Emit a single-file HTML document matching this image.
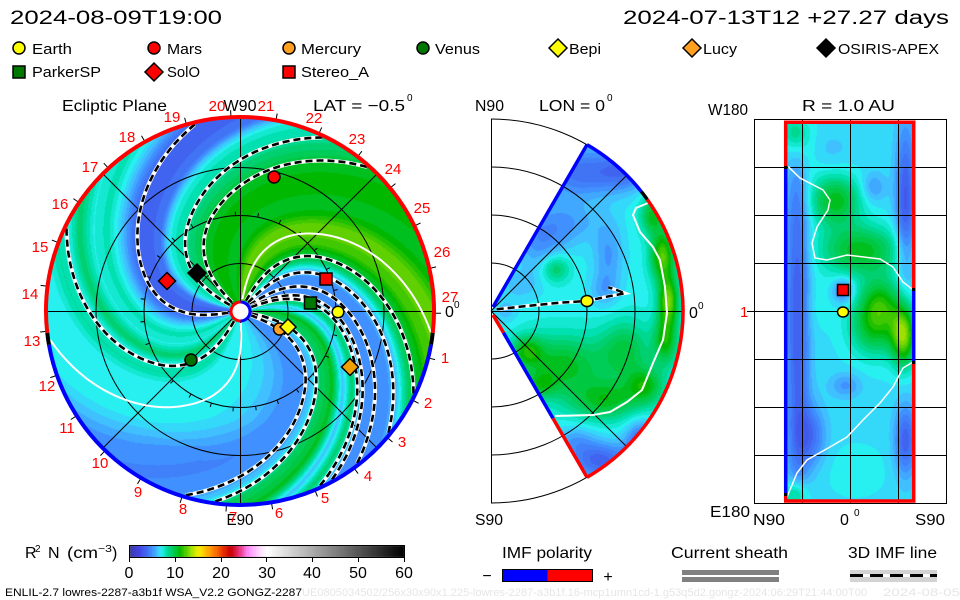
<!DOCTYPE html>
<html><head><meta charset="utf-8">
<style>
html,body{margin:0;padding:0;background:#fff;}
#wrap{position:relative;width:960px;height:600px;overflow:hidden;background:#fff;}
#bg,#cv,#ov{position:absolute;left:0;top:0;}
text{font-family:"Liberation Sans",sans-serif;}
</style></head><body><div id="wrap">
<svg id="bg" width="960" height="600" xmlns="http://www.w3.org/2000/svg">
 <circle cx="240" cy="311" r="193" fill="#40d0e0"/>
 <path d="M491,311 L587,145 A192,192 0 0 1 587,477 Z" fill="#40c8e8"/>
 <rect x="786" y="122" width="128" height="379" fill="#40c8f0"/>
 <rect x="129" y="545" width="275" height="12" fill="#888"/>
</svg>
<canvas id="cv" width="960" height="600"></canvas>
<svg id="ov" width="960" height="600" xmlns="http://www.w3.org/2000/svg">
 <g stroke="#000" stroke-width="1" fill="none">
  <circle cx="240" cy="311.5" r="48"/>
  <circle cx="240" cy="311.5" r="96"/>
  <circle cx="240" cy="311.5" r="144"/>
  <line x1="47" y1="311.5" x2="433" y2="311.5"/>
  <line x1="240.5" y1="118" x2="240.5" y2="504"/>
  <line x1="103.5" y1="174.5" x2="376.5" y2="447.5"/>
  <line x1="103.5" y1="447.5" x2="376.5" y2="174.5"/>
 </g>
 <g id="ticks" stroke="#000" stroke-width="1"></g>
 <g id="fl" fill="none"></g>
 <g fill="none" stroke-width="4">
  <path d="M47.25,332.96 A194,194 0 1 1 432.75,332.96" stroke="#ff0000"/>
  <path d="M432.75,332.96 A194,194 0 0 1 431.05,344.69" stroke="#000"/>
  <path d="M431.05,344.69 A194,194 0 0 1 48.95,344.69" stroke="#0000ff"/>
  <path d="M48.95,344.69 A194,194 0 0 1 47.25,332.96" stroke="#000"/>
 </g>
 <circle cx="240.5" cy="311.5" r="9.5" fill="#fff"/>
 <path d="M240.5,302 A9.5,9.5 0 0 0 240.5,321" fill="none" stroke="#ff0000" stroke-width="3"/>
 <path d="M240.5,302 A9.5,9.5 0 0 1 240.5,321" fill="none" stroke="#0000ff" stroke-width="3"/>
 <g stroke="#000" stroke-width="1.5">
  <circle cx="274" cy="177" r="6" fill="#ff0000"/>
  <path d="M167,272.5 L175.5,281 L167,289.5 L158.5,281 Z" fill="#ff0000"/>
  <path d="M197,264 L206,273 L197,282 L188,273 Z" fill="#000"/>
  <rect x="320" y="273" width="12" height="12" fill="#ff0000"/>
  <rect x="304.5" y="297" width="12" height="12" fill="#007800"/>
  <circle cx="338" cy="312" r="5.8" fill="#ffff00"/>
  <circle cx="279.5" cy="329" r="6" fill="#ffa020"/>
  <path d="M288,319 L296,327 L288,335 L280,327 Z" fill="#ffff00"/>
  <path d="M350,358.5 L358.5,367 L350,375.5 L341.5,367 Z" fill="#f0a000"/>
  <circle cx="191" cy="360" r="6" fill="#007000"/>
 </g>

 <g stroke="#000" stroke-width="1" fill="none">
  <line x1="491.5" y1="119" x2="491.5" y2="503"/>
  <path d="M491,263 A48,48 0 0 1 491,359"/>
  <path d="M491,215 A96,96 0 0 1 491,407"/>
  <path d="M491,167 A144,144 0 0 1 491,455"/>
  <path d="M491,119 A192,192 0 0 1 491,503"/>
  <line x1="491" y1="311.5" x2="682" y2="311.5"/>
  <line x1="491" y1="311" x2="626" y2="176"/>
  <line x1="491" y1="311" x2="626" y2="446"/>
 </g>
 <polyline points="648,203 636,208 633,215 640,232 653,247 660,260 665,287 667,313 663,340 653,363 642,390 627,402 610,412 593,415 555,416" fill="none" stroke="#fff" stroke-width="2"/>
 <polyline points="496.7,309.3 526.7,306 560,302.7 586.7,301 606.7,296.7 625,293.3 616.7,290 608.3,287.3" fill="none" stroke="#fff" stroke-width="3.5"/>
 <polyline points="496.7,309.3 526.7,306 560,302.7 586.7,301 606.7,296.7 625,293.3 616.7,290 608.3,287.3" fill="none" stroke="#000" stroke-width="2.5" stroke-dasharray="7,4"/>
 <g fill="none" stroke-width="3.5">
  <line x1="493" y1="307" x2="587" y2="144.7" stroke="#0000ff"/>
  <path d="M587,144.7 A192,192 0 0 1 641.4,191.7" stroke="#0000ff"/>
  <path d="M641.4,191.7 A192,192 0 0 1 647.3,199.5" stroke="#000"/>
  <path d="M647.3,199.5 A192,192 0 0 1 587,477.3" stroke="#ff0000"/>
  <line x1="493" y1="315" x2="503.5" y2="332.7" stroke="#ff0000"/>
  <line x1="503.5" y1="332.7" x2="553" y2="418.4" stroke="#0000ff"/>
  <line x1="553" y1="418.4" x2="587" y2="477.3" stroke="#ff0000"/>
 </g>
 <ellipse cx="587" cy="301" rx="6" ry="5.5" fill="#ffff00" stroke="#000" stroke-width="1.5"/>

 <g stroke="#000" stroke-width="1" fill="none">
  <rect x="754.5" y="119.5" width="192" height="384"/>
  <line x1="802.5" y1="119" x2="802.5" y2="503"/>
  <line x1="850.5" y1="119" x2="850.5" y2="503"/>
  <line x1="898.5" y1="119" x2="898.5" y2="503"/>
  <line x1="754" y1="167.5" x2="946" y2="167.5"/>
  <line x1="754" y1="215.5" x2="946" y2="215.5"/>
  <line x1="754" y1="263.5" x2="946" y2="263.5"/>
  <line x1="747" y1="311.5" x2="946" y2="311.5"/>
  <line x1="754" y1="359.5" x2="946" y2="359.5"/>
  <line x1="754" y1="407.5" x2="946" y2="407.5"/>
  <line x1="754" y1="455.5" x2="946" y2="455.5"/>
 </g>
 <polyline points="788.3,166.7 800,178 823,190 830,200 828,210 817,227 812,243 815,258 827,260 847,255 880,259 893,267 903,282 912,289" fill="none" stroke="#fff" stroke-width="1.5"/>
 <polyline points="913,362 903,368 893,387 880,403 863,420 847,437 830,447 807,460 797,473 787,497" fill="none" stroke="#fff" stroke-width="1.5"/>
 <g fill="none" stroke-width="3.5">
  <line x1="784" y1="122.3" x2="915.5" y2="122.3" stroke="#ff0000"/>
  <line x1="784" y1="501" x2="915.5" y2="501" stroke="#ff0000"/>
  <line x1="785.7" y1="122" x2="785.7" y2="166" stroke="#ff0000"/>
  <line x1="785.7" y1="166" x2="785.7" y2="169" stroke="#000"/>
  <line x1="785.7" y1="169" x2="785.7" y2="493" stroke="#0000ff"/>
  <line x1="785.7" y1="493" x2="785.7" y2="496" stroke="#000"/>
  <line x1="785.7" y1="496" x2="785.7" y2="502" stroke="#ff0000"/>
  <line x1="913.7" y1="122" x2="913.7" y2="288" stroke="#ff0000"/>
  <line x1="913.7" y1="288" x2="913.7" y2="291" stroke="#000"/>
  <line x1="913.7" y1="291" x2="913.7" y2="361" stroke="#0000ff"/>
  <line x1="913.7" y1="361" x2="913.7" y2="364" stroke="#000"/>
  <line x1="913.7" y1="364" x2="913.7" y2="502" stroke="#ff0000"/>
 </g>
 <rect x="837.5" y="284.5" width="11" height="11" fill="#ff0000" stroke="#000" stroke-width="1.5"/>
 <ellipse cx="843" cy="312" rx="5.5" ry="5" fill="#ffff00" stroke="#000" stroke-width="1.5"/>

 <text x="10" y="24" font-size="19" textLength="212" lengthAdjust="spacingAndGlyphs">2024-08-09T19:00</text>
 <text x="623" y="24" font-size="19" textLength="326" lengthAdjust="spacingAndGlyphs">2024-07-13T12 +27.27 days</text>

 <g stroke="#000" stroke-width="1.5">
  <circle cx="19" cy="48" r="6" fill="#ffff00"/>
  <circle cx="154" cy="48" r="6" fill="#ff0000"/>
  <circle cx="289" cy="48" r="6" fill="#ffa020"/>
  <circle cx="423" cy="48" r="6" fill="#007800"/>
  <path d="M558,39 L567,48 L558,57 L549,48 Z" fill="#ffff00"/>
  <path d="M692,39 L701,48 L692,57 L683,48 Z" fill="#ffa020"/>
  <path d="M826,39 L835,48 L826,57 L817,48 Z" fill="#000"/>
  <rect x="13" y="66" width="12" height="12" fill="#007800"/>
  <path d="M154,63 L163,72 L154,81 L145,72 Z" fill="#ff0000"/>
  <rect x="283" y="66" width="12" height="12" fill="#ff0000"/>
 </g>
 <g font-size="15">
  <text x="32" y="54" textLength="40" lengthAdjust="spacingAndGlyphs">Earth</text>
  <text x="167" y="54" textLength="35" lengthAdjust="spacingAndGlyphs">Mars</text>
  <text x="301" y="54" textLength="60" lengthAdjust="spacingAndGlyphs">Mercury</text>
  <text x="435" y="54" textLength="45" lengthAdjust="spacingAndGlyphs">Venus</text>
  <text x="569" y="54" textLength="32" lengthAdjust="spacingAndGlyphs">Bepi</text>
  <text x="703" y="54" textLength="34" lengthAdjust="spacingAndGlyphs">Lucy</text>
  <text x="838" y="54" textLength="101" lengthAdjust="spacingAndGlyphs">OSIRIS-APEX</text>
  <text x="32" y="77" textLength="69" lengthAdjust="spacingAndGlyphs">ParkerSP</text>
  <text x="167" y="77" textLength="33" lengthAdjust="spacingAndGlyphs">SolO</text>
  <text x="301" y="77" textLength="68" lengthAdjust="spacingAndGlyphs">Stereo_A</text>
 </g>

 <g font-size="16">
  <text x="62" y="111" textLength="105" lengthAdjust="spacingAndGlyphs">Ecliptic Plane</text>
  <text x="240" y="111" text-anchor="middle" textLength="33" lengthAdjust="spacingAndGlyphs">W90</text>
  <text x="313" y="111" textLength="92" lengthAdjust="spacingAndGlyphs">LAT = −0.5</text>
  <text x="407" y="101" font-size="10">0</text>
  <text x="475" y="111" textLength="29" lengthAdjust="spacingAndGlyphs">N90</text>
  <text x="539" y="111" textLength="66" lengthAdjust="spacingAndGlyphs">LON = 0</text>
  <text x="607" y="101" font-size="10">0</text>
  <text x="708" y="115" textLength="40" lengthAdjust="spacingAndGlyphs">W180</text>
  <text x="802" y="111" textLength="93" lengthAdjust="spacingAndGlyphs">R = 1.0 AU</text>
  <text x="240" y="525" text-anchor="middle" textLength="27" lengthAdjust="spacingAndGlyphs">E90</text>
  <text x="475" y="525" textLength="28" lengthAdjust="spacingAndGlyphs">S90</text>
  <text x="710" y="517" textLength="40" lengthAdjust="spacingAndGlyphs">E180</text>
  <text x="753" y="525" textLength="32" lengthAdjust="spacingAndGlyphs">N90</text>
  <text x="840" y="525">0</text>
  <text x="854" y="516" font-size="10">0</text>
  <text x="915" y="525" textLength="30" lengthAdjust="spacingAndGlyphs">S90</text>
  <text x="445" y="317">0</text>
  <text x="454" y="308" font-size="10">0</text>
  <text x="689" y="318">0</text>
  <text x="698" y="309" font-size="10">0</text>
 </g>
 <text x="740" y="317" font-size="15" fill="#ff0000">1</text>

 <g font-size="15" fill="#ff0000" text-anchor="middle">
  <text x="172" y="122">19</text>
  <text x="217" y="111">20</text>
  <text x="266" y="111">21</text>
  <text x="314" y="123">22</text>
  <text x="357" y="144">23</text>
  <text x="393" y="174">24</text>
  <text x="422" y="213">25</text>
  <text x="442" y="257">26</text>
  <text x="450" y="302">27</text>
  <text x="445" y="363">1</text>
  <text x="428" y="408">2</text>
  <text x="402" y="447">3</text>
  <text x="368" y="481">4</text>
  <text x="325" y="503">5</text>
  <text x="279" y="518">6</text>
  <text x="233" y="522">7</text>
  <text x="183" y="514">8</text>
  <text x="138" y="497">9</text>
  <text x="100" y="468">10</text>
  <text x="67" y="433">11</text>
  <text x="47" y="391">12</text>
  <text x="32" y="346">13</text>
  <text x="30" y="299">14</text>
  <text x="40" y="252">15</text>
  <text x="60" y="209">16</text>
  <text x="90" y="172">17</text>
  <text x="127" y="142">18</text>
 </g>

 <rect x="129.5" y="545.5" width="275" height="12" fill="none" stroke="#000" stroke-width="1"/>
 <g stroke="#000" stroke-width="1">
  <line x1="129.5" y1="557" x2="129.5" y2="562"/>
  <line x1="175.5" y1="557" x2="175.5" y2="562"/>
  <line x1="221.5" y1="557" x2="221.5" y2="562"/>
  <line x1="266.5" y1="557" x2="266.5" y2="562"/>
  <line x1="312.5" y1="557" x2="312.5" y2="562"/>
  <line x1="358.5" y1="557" x2="358.5" y2="562"/>
  <line x1="404.5" y1="557" x2="404.5" y2="562"/>
 </g>
 <g font-size="16" text-anchor="middle">
  <text x="129" y="578">0</text>
  <text x="175" y="578">10</text>
  <text x="221" y="578">20</text>
  <text x="267" y="578">30</text>
  <text x="312" y="578">40</text>
  <text x="358" y="578">50</text>
  <text x="404" y="578">60</text>
 </g>
 <g font-size="16">
  <text x="25" y="558">R</text>
  <text x="35" y="552" font-size="10">2</text>
  <text x="48" y="558">N</text>
  <text x="67" y="558" textLength="31" lengthAdjust="spacingAndGlyphs">(cm</text>
  <text x="98" y="552" font-size="10" textLength="14" lengthAdjust="spacingAndGlyphs">−3</text>
  <text x="112" y="558">)</text>
 </g>

 <g font-size="16">
  <text x="502" y="558" textLength="90" lengthAdjust="spacingAndGlyphs">IMF polarity</text>
  <text x="671" y="558" textLength="117" lengthAdjust="spacingAndGlyphs">Current sheath</text>
  <text x="848" y="558" textLength="89" lengthAdjust="spacingAndGlyphs">3D IMF line</text>
  <text x="487" y="581" text-anchor="middle">−</text>
  <text x="608" y="582" text-anchor="middle">+</text>
 </g>
 <rect x="502.5" y="569.5" width="45" height="12" fill="#0000ff"/>
 <rect x="547.5" y="569.5" width="45" height="12" fill="#ff0000"/>
 <rect x="502.5" y="569.5" width="90" height="12" fill="none" stroke="#000" stroke-width="1"/>
 <rect x="682" y="570" width="97" height="5" fill="#808080"/>
 <rect x="682" y="577" width="97" height="5" fill="#808080"/>
 <rect x="850" y="570" width="87" height="12" fill="#d3d3d3"/>
 <line x1="850" y1="575.5" x2="937" y2="575.5" stroke="#fff" stroke-width="3"/>
 <line x1="850" y1="575.5" x2="937" y2="575.5" stroke="#000" stroke-width="3" stroke-dasharray="13,7"/>

 <text x="302" y="596" font-size="11" fill="#e6e6e6" textLength="565" lengthAdjust="spacingAndGlyphs">UE0805034502/256x30x90x1.225-lowres-2287-a3b1f.16-mcp1umn1cd-1.g53q5d2.gongz-2024:06:29T21:44:00T00</text>
 <text x="883" y="596" font-size="11" fill="#e6e6e6" textLength="77" lengthAdjust="spacingAndGlyphs">2024-08-05</text>
 <text x="5" y="596" font-size="11" textLength="297" lengthAdjust="spacingAndGlyphs">ENLIL-2.7 lowres-2287-a3b1f WSA_V2.2 GONGZ-2287</text>
</svg>
</div>
<script>
(function(){
var cv=document.getElementById('cv'),ctx=cv.getContext('2d');
var W=960,H=600,img=ctx.createImageData(W,H),D=img.data;
var S=[[0,60,60,150],[2,64,64,230],[3.5,65,100,240],[5,64,144,255],[6,64,192,255],[7,40,240,240],[8,0,224,176],[9,0,208,112],[10,0,200,64],[11,0,184,0],[12,64,200,0],[13,128,216,0],[14,192,232,0],[15,240,240,0],[16,255,208,0],[18,255,140,0],[20,240,64,0],[22,200,0,0],[24,232,48,124],[26,255,144,255],[28,255,208,255],[30,255,255,255],[60,0,0,0]];
function cm(d){if(d<=0)return[60,60,150];for(var i=1;i<S.length;i++){if(d<=S[i][0]){var a=S[i-1],b=S[i],t=(d-a[0])/(b[0]-a[0]);return[a[1]+(b[1]-a[1])*t,a[2]+(b[2]-a[2])*t,a[3]+(b[3]-a[3])*t];}}return[0,0,0];}
function q(d){return Math.round(d*2)/2;}
function put(x,y,c){var i=(y*W+x)*4;D[i]=c[0];D[i+1]=c[1];D[i+2]=c[2];D[i+3]=255;}
function rot(r){if(r>=100)return 0.62*(193-r);var rr=Math.max(r,10)-10;return 57.66+0.003444*(8100-rr*rr);}
var T=[[0,12.5],[10,10.8],[20,10.5],[30,11.2],[45,10.5],[55,9.3],[65,8.3],[75,7.5],[80,6],[85,4],[95,3.5],[105,3.8],[112,5.5],[118,6.8],[125,8],[135,7.2],[145,9.2],[152,7.2],[160,8.3],[168,7.2],[180,7],[190,7.2],[200,6.9],[210,6.5],[220,6.1],[228,5.6],[238,5],[250,5.1],[258,6],[265,9.2],[275,10.5],[283,6],[290,9.2],[298,5],[305,5],[315,5],[322,6],[330,9.2],[338,10.5],[345,12],[355,12.5],[360,12.5]];
function tab(th){for(var i=1;i<T.length;i++){if(th<=T[i][0]){var a=T[i-1],b=T[i],t=(th-a[0])/(b[0]-a[0]);return a[1]+(b[1]-a[1])*t;}}return 12.5;}
function bl(B,base,x,y){var d=base;for(var i=0;i<B.length;i++){var b=B[i],u=(x-b[0])/b[2],v=(y-b[1])/b[3];d+=b[4]*Math.exp(-(u*u+v*v));}return d;}
var x,y,dx,dy,r;
for(y=116;y<508;y++)for(x=45;x<436;x++){
 dx=x+0.5-240;dy=311-(y+0.5);r=Math.sqrt(dx*dx+dy*dy);
 if(r>193||r<9)continue;
 var ph=Math.atan2(dy,dx)*180/Math.PI;
 var th=ph-rot(r);th=((th%360)+360)%360;
 var d=tab(th);
 if(th>195&&th<245&&r>110){var w=1-Math.abs(th-220)/25;d-=1.2*w*Math.min(1,(r-110)/45);}
 put(x,y,cm(q(d)));
}
var BM=[[540,240,25,30,-2],[570,222,30,22,-1.5],[580,172,40,25,-3],[625,170,25,20,-2.5],[520,285,20,15,-1],[608,255,15,35,-1.8],[603,290,14,16,-1.2],[555,268,14,14,2.5],
[652,215,12,18,3.5],[662,255,12,25,5.2],[668,300,10,25,5.5],[665,340,12,25,3.8],[645,385,18,18,3.3],
[560,365,45,30,3.6],[605,400,35,20,3.3],[625,350,25,30,2.8],[527,350,14,14,3],[540,385,15,12,2],
[600,460,30,18,-3.5],[640,440,15,20,-3],[575,440,20,15,-1.5],[505,311,12,12,-1]];
for(y=116;y<506;y++)for(x=491;x<685;x++){
 dx=x+0.5-491;dy=311-(y+0.5);r=Math.sqrt(dx*dx+dy*dy);
 if(r>191||r<3||dx<=0)continue;
 var lat=Math.atan2(dy,dx)*180/Math.PI;if(Math.abs(lat)>60)continue;
 put(x,y,cm(q(bl(BM,7,x,y))));
}
var BR=[[797,311,12,200,-3.4],[795,130,12,18,2.5],[795,495,12,15,3],[800,150,15,30,1.5],[905,200,10,75,-3.5],[905,440,11,35,-3.2],[903,335,12,30,6],[880,300,20,25,3],
[835,200,25,25,4],[873,187,12,15,-1.5],[860,250,40,25,4],[875,325,25,30,4],[843,290,10,12,-2.5],[815,305,15,25,0.5],[845,385,15,12,-1.5],[810,435,15,30,-2.5],[855,470,30,25,0.5],[830,150,25,20,-0.5]];
for(y=122;y<501;y++)for(x=786;x<914;x++){put(x,y,cm(q(bl(BR,6.6,x,y))));}
for(y=546;y<557;y++)for(x=130;x<404;x++){put(x,y,cm(Math.floor((x-129)/275*60*2)/2+0.25));}
ctx.putImageData(img,0,0);
var NS='http://www.w3.org/2000/svg';
function P(g,d,a){var p=document.createElementNS(NS,'path');p.setAttribute('d',d);for(var k in a)p.setAttribute(k,a[k]);g.appendChild(p);}
function sp(po,r0,r1){var p='';for(var rr=r1;rr>=r0;rr-=2){var a=(po+rot(rr))*Math.PI/180;p+=(p?'L':'M')+(240+rr*Math.cos(a)).toFixed(1)+','+(311-rr*Math.sin(a)).toFixed(1);}return p;}
var fl=document.getElementById('fl');
P(fl,sp(-7,12,192),{stroke:'#fff','stroke-width':'2'});
P(fl,sp(188,12,192),{stroke:'#fff','stroke-width':'2'});
var L=[103,64,48,154,-26,-40,-53,-62,-66,-98,-107];
for(var i=0;i<L.length;i++){var dd=sp(L[i],12,192);P(fl,dd,{stroke:'#fff','stroke-width':'4'});P(fl,dd,{stroke:'#000','stroke-width':'2.6','stroke-dasharray':'7,4'});}
var tk=document.getElementById('ticks'),td='';
for(var n=0;n<27;n++){var a=(-14-n*13.333)*Math.PI/180,c=Math.cos(a),sn=Math.sin(a);
 td+='M'+(240+195*c).toFixed(1)+','+(311-195*sn).toFixed(1)+'L'+(240+201*c).toFixed(1)+','+(311-201*sn).toFixed(1);
 td+='M'+(240+96*c).toFixed(1)+','+(311.5-96*sn).toFixed(1)+'L'+(240+100*c).toFixed(1)+','+(311.5-100*sn).toFixed(1);}
P(tk,td,{fill:'none'});
})();
</script>
</body></html>
